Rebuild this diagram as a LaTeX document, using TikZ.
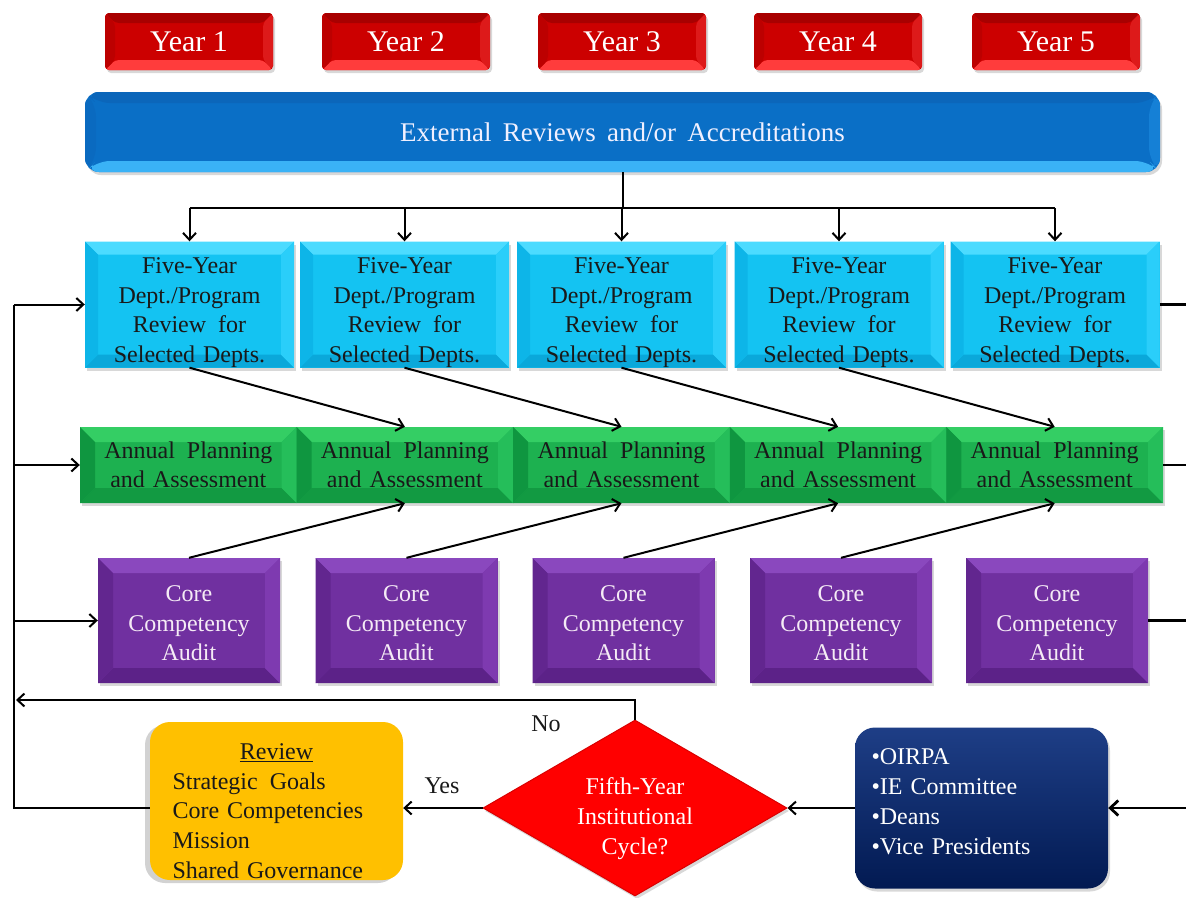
\documentclass[tikz,border=0pt]{standalone}
\usepackage{fontspec}
\setmainfont{Liberation Serif}
\usetikzlibrary{arrows.meta,shapes.geometric,shadows}
\definecolor{yrbase}{HTML}{CC0000}
\definecolor{yrtop}{HTML}{A80000}
\definecolor{yrbot}{HTML}{FF3C3C}
\definecolor{yrleft}{HTML}{BC0000}
\definecolor{yrright}{HTML}{DD1A1A}
\definecolor{blbase}{HTML}{0A6FC6}
\definecolor{bltop}{HTML}{0B66BA}
\definecolor{blbot}{HTML}{3AB2F6}
\definecolor{blleft}{HTML}{0A6AC0}
\definecolor{blright}{HTML}{1580D6}
\definecolor{cybase}{HTML}{14C3F2}
\definecolor{cytop}{HTML}{4CDBFF}
\definecolor{cybot}{HTML}{0AA8DA}
\definecolor{cyleft}{HTML}{0DB5E8}
\definecolor{cyright}{HTML}{2ACEFA}
\definecolor{grbase}{HTML}{1DB150}
\definecolor{grtop}{HTML}{34CE64}
\definecolor{grbot}{HTML}{129A42}
\definecolor{grleft}{HTML}{0F9640}
\definecolor{grright}{HTML}{25BE5A}
\definecolor{pubase}{HTML}{7030A0}
\definecolor{putop}{HTML}{8A48BE}
\definecolor{pubot}{HTML}{5C2288}
\definecolor{puleft}{HTML}{62268F}
\definecolor{puright}{HTML}{7E3AB0}
\definecolor{yel}{HTML}{FFC000}
\definecolor{navytop}{HTML}{1E3E86}
\definecolor{navybot}{HTML}{021A52}
\definecolor{diared}{HTML}{FF0000}
\newcommand\tstrut[1]{\rule{0pt}{#1}}
\newcommand\bstrut[1]{\rule[-#1]{0pt}{1pt}}
\tikzset{
  bvdepth/.store in=\bvd, bvdepth=10pt,
  bevel/.style n args={5}{fill=#1, path picture={
    \fill[#2] (path picture bounding box.north west) -- (path picture bounding box.north east)
      -- ([xshift=-\bvd,yshift=-\bvd]path picture bounding box.north east)
      -- ([xshift=\bvd,yshift=-\bvd]path picture bounding box.north west) -- cycle;
    \fill[#3] (path picture bounding box.south west) -- (path picture bounding box.south east)
      -- ([xshift=-\bvd,yshift=\bvd]path picture bounding box.south east)
      -- ([xshift=\bvd,yshift=\bvd]path picture bounding box.south west) -- cycle;
    \fill[#4] (path picture bounding box.south west) -- (path picture bounding box.north west)
      -- ([xshift=\bvd,yshift=-\bvd]path picture bounding box.north west)
      -- ([xshift=\bvd,yshift=\bvd]path picture bounding box.south west) -- cycle;
    \fill[#5] (path picture bounding box.south east) -- (path picture bounding box.north east)
      -- ([xshift=-\bvd,yshift=-\bvd]path picture bounding box.north east)
      -- ([xshift=-\bvd,yshift=\bvd]path picture bounding box.south east) -- cycle;
  }},
  shad/.style={drop shadow={opacity=0.3,shadow xshift=2pt,shadow yshift=-3pt}},
  yearbox/.style={rectangle, rounded corners=4pt, minimum width=168pt, minimum height=57pt,
    bvdepth=10pt, bevel={yrbase}{yrtop}{yrbot}{yrleft}{yrright}, shad,
    text=white, font=\fontsize{30}{34}\selectfont},
  bluebar/.style={rectangle, rounded corners=14pt, minimum width=1075pt, minimum height=80pt,
    bvdepth=11pt, bevel={blbase}{bltop}{blbot}{blleft}{blright}, shad,
    text=white!94!blue, font=\fontsize{27}{31}\selectfont},
  cyanbox/.style={rectangle, minimum width=209pt, minimum height=126pt, text width=200pt, align=center,
    inner ysep=0pt, bvdepth=13pt, bevel={cybase}{cytop}{cybot}{cyleft}{cyright}, shad,
    text=black!90, font=\fontsize{24}{29.5}\selectfont},
  greenbox/.style={rectangle, minimum width=216.6pt, minimum height=76pt, text width=205pt, align=center,
    bvdepth=15pt, bevel={grbase}{grtop}{grbot}{grleft}{grright}, shad,
    text=black!90, font=\fontsize{24}{29}\selectfont},
  purplebox/.style={rectangle, minimum width=182pt, minimum height=125pt, text width=175pt, align=center,
    bvdepth=15pt, bevel={pubase}{putop}{pubot}{puleft}{puright}, shad,
    text=white!92!violet, font=\fontsize{24}{29.5}\selectfont},
  reviewbox/.style={rectangle, rounded corners=20pt, minimum width=253pt, minimum height=158pt,
    inner ysep=0pt, fill=yel, text width=208pt, align=left,
    drop shadow={opacity=0.35,shadow xshift=-5pt,shadow yshift=-3pt},
    text=black!90, font=\fontsize{24}{29.75}\selectfont},
  navybox/.style={rectangle, rounded corners=20pt, minimum width=253pt, minimum height=161pt,
    top color=navytop, bottom color=navybot, text width=220pt, align=left, shad,
    text=white, font=\fontsize{24}{29.7}\selectfont},
  decision/.style={diamond, aspect=1.727, inner sep=0pt, minimum width=304pt, minimum height=176pt,
    fill=diared, draw=red!85!black, line width=1pt, align=center, shad,
    text=white, font=\fontsize{24}{30}\selectfont},
  lbl/.style={font=\fontsize{24}{28}\selectfont, text=black!90},
  conn/.style={line width=2pt, draw=black},
  arr/.style={conn, -{Straight Barb[length=7pt,width=13pt]}},
}
\begin{document}
\begin{tikzpicture}[x=1pt,y=-1pt]
\useasboundingbox[fill=white] (0,0) rectangle (1186,897);
% year headers
\foreach \i/\x in {1/189,2/406,3/622,4/838,5/1056}
  \node[yearbox] (y\i) at (\x,41.5) {Year \i};
% external reviews bar
\node[bluebar] (ext) at (622.5,132) {External\, Reviews\, and/or\, Accreditations};
% five-year reviews
\foreach \i/\x in {1/189.5,2/404.5,3/621.5,4/839,5/1055}
  \node[cyanbox] (c\i) at (\x,304.5) {\tstrut{32pt}Five-Year\\Dept./Program\\Review\, for\\Selected Depts.};
% annual planning
\foreach \i/\x in {1/188.3,2/404.9,3/621.5,4/838.1,5/1054.7}
  \node[greenbox] (g\i) at (\x,465) {Annual\, Planning\\and Assessment};
% core competency audits
\foreach \i/\x in {1/189,2/406.5,3/623.5,4/841,5/1057}
  \node[purplebox] (p\i) at (\x,620.5) {\tstrut{22pt}Core\\Competency\\Audit};
% bottom row
\node[reviewbox] (rev) at (276.5,801) {\makebox[208pt]{\tstrut{36pt}\underline{Review}}\\Strategic\, Goals\\Core Competencies\\Mission\\Shared Governance};
\node[decision] (dia) at (635,808) {\tstrut{38pt}Fifth-Year\\Institutional\\Cycle?};
\node[navybox] (who) at (981.5,808) {\textbullet OIRPA\\\textbullet IE Committee\\\textbullet Deans\\\textbullet Vice Presidents\bstrut{13pt}};
\node[lbl] (yes) at (442,786) {Yes};
\node[lbl] (no) at (546,724) {No};
% distribution from external bar
\coordinate (bus) at (622.5,208);
\draw[conn] (ext.south) -- (bus);
\draw[conn] (c1.north |- bus) -- (c5.north |- bus);
\foreach \i in {1,...,5}
  \draw[arr] (c\i.north |- bus) -- (c\i.north);
% diagonal feeds into next year's planning
\foreach \i/\j in {1/2,2/3,3/4,4/5}{
  \draw[arr] (c\i.south) -- (g\j.north);
  \draw[arr] (p\i.north) -- (g\j.south);
}
% left loop
\coordinate (lt) at (14,304.5);
\draw[conn, line join=miter] (rev.west |- dia.west) -- (dia.west -| lt) -- (lt);
\draw[arr] (lt) -- (c1.west);
\draw[arr] (lt |- g1.west) -- (g1.west);
\draw[arr] (lt |- p1.west) -- (p1.west);
% no branch
\coordinate (nol) at (16,700);
\draw[arr, line join=miter] (dia.north) |- (nol);
% yes branch and input
\draw[arr] (dia.west) -- (dia.west -| rev.east);
\draw[arr] (who.west) -- (dia.east);
\coordinate (rin) at (1186,808);
\draw[conn, line width=2.8pt, -{Straight Barb[length=8pt,width=15pt]}] (rin) -- (who.east);
% right-edge continuations
\draw[conn, line width=2.6pt] (c5.east) -- (c5.east -| rin);
\draw[conn, line width=2.6pt] (g5.east) -- (g5.east -| rin);
\draw[conn, line width=2.6pt] (p5.east) -- (p5.east -| rin);
\end{tikzpicture}
\end{document}
